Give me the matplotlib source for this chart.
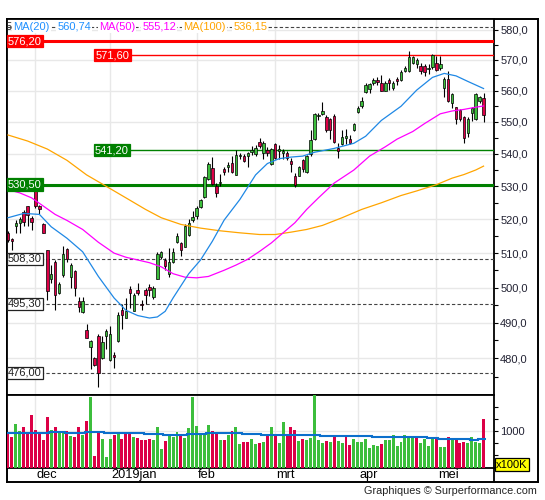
import matplotlib
matplotlib.use("Agg")
import numpy as np
import matplotlib.pyplot as plt
import matplotlib.transforms as mtransforms
from matplotlib.lines import Line2D
from matplotlib.ticker import FixedLocator, FuncFormatter, NullFormatter

plt.rcParams["font.family"] = ["Liberation Sans", "DejaVu Sans"]

# ── koersen (dagelijkse candles, index 0 = eerste dag in beeld) ──────────
opens = [515.9, 514.3, 517.9, 519.0, 522.1, 523.9, 520.3, 529.0, 524.0, 518.6,
         510.8, 502.4, 507.5, 498.3, 503.5, 511.2, 503.1, 504.9, 496.2, 493.0,
         487.8, 483.2, 480.2, 486.3, 480.0, 486.1, 479.6, 480.9, 484.8, 493.5,
         491.4, 499.5, 493.4, 499.3, 495.2, 499.3, 500.2, 497.4, 502.6, 508.8,
         508.0, 503.8, 507.5, 513.4, 512.9, 511.9, 515.5, 519.8, 521.0, 523.6,
         526.8, 532.2, 535.6, 530.0, 531.0, 535.4, 535.8, 537.2, 533.6, 539.4,
         539.4, 539.2, 540.5, 540.0, 543.8, 540.3, 541.1, 537.0, 543.0, 541.0,
         540.3, 540.3, 537.7, 533.3, 533.3, 538.0, 534.3, 539.9, 544.5, 551.9,
         552.6, 551.7, 551.0, 552.0, 541.7, 543.1, 545.0, 544.6, 547.5, 553.1,
         555.0, 559.5, 560.4, 562.5, 563.5, 562.5, 560.0, 563.3, 560.9, 563.7,
         563.4, 566.4, 566.3, 569.1, 568.6, 567.9, 568.1, 567.0, 567.7, 569.1,
         567.5, 561.0, 563.8, 555.9, 554.7, 553.7, 551.5, 546.6, 552.9, 550.8,
         556.7, 557.7]
highs = [516.4, 514.5, 519.8, 520.6, 522.9, 524.1, 521.0, 532.0, 524.3, 518.8,
         511.0, 506.6, 508.0, 501.6, 512.0, 511.6, 507.2, 505.1, 497.3, 497.3,
         489.7, 485.2, 480.5, 486.9, 486.1, 488.3, 489.1, 481.9, 493.1, 495.3,
         497.0, 500.3, 498.3, 501.3, 496.5, 499.8, 501.0, 500.4, 510.4, 510.5,
         508.5, 511.4, 511.4, 515.9, 513.4, 518.6, 520.0, 522.4, 524.0, 526.1,
         533.1, 537.4, 539.0, 531.0, 533.8, 535.9, 537.4, 539.2, 541.3, 540.4,
         540.0, 540.6, 542.6, 542.9, 545.1, 543.9, 542.2, 541.9, 543.4, 542.8,
         541.4, 540.9, 538.8, 534.1, 536.2, 538.4, 539.7, 547.5, 552.9, 553.0,
         556.4, 552.2, 551.3, 552.4, 543.3, 547.4, 547.8, 545.9, 549.6, 555.1,
         558.0, 562.5, 562.5, 564.1, 564.4, 565.2, 563.1, 564.1, 563.1, 564.5,
         566.6, 568.1, 572.9, 571.4, 570.8, 569.0, 568.7, 568.6, 571.9, 571.2,
         571.2, 564.4, 566.5, 559.1, 554.9, 554.2, 551.8, 551.5, 554.7, 559.1,
         558.4, 559.3]
lows = [513.4, 510.9, 515.8, 516.0, 517.9, 517.9, 516.8, 523.5, 521.6, 515.8,
        496.5, 501.2, 493.5, 498.0, 503.0, 507.5, 500.0, 497.5, 493.0, 492.7,
        485.6, 477.0, 477.8, 472.1, 479.8, 482.7, 479.4, 477.3, 484.5, 488.3,
        491.2, 494.1, 493.2, 497.8, 493.5, 495.3, 497.7, 496.8, 502.4, 508.4,
        505.1, 503.1, 507.2, 512.9, 509.1, 511.7, 515.2, 519.3, 520.0, 523.4,
        526.5, 532.0, 530.5, 526.8, 530.0, 533.4, 534.4, 534.0, 533.4, 538.3,
        537.6, 535.9, 539.8, 539.2, 541.8, 538.4, 539.2, 536.7, 538.4, 538.4,
        538.4, 538.2, 534.3, 529.7, 533.1, 534.3, 534.1, 539.2, 544.3, 550.6,
        552.3, 546.9, 544.5, 543.3, 538.6, 542.8, 543.1, 543.1, 547.2, 552.8,
        554.6, 559.2, 559.3, 561.9, 561.9, 559.8, 559.8, 560.3, 560.1, 562.0,
        563.1, 565.9, 565.9, 568.6, 567.3, 565.3, 564.9, 565.3, 567.1, 566.5,
        566.6, 558.0, 556.4, 554.6, 549.5, 550.4, 543.5, 545.4, 550.3, 550.6,
        555.9, 549.9]
closes = [513.9, 513.6, 519.0, 520.0, 519.3, 521.4, 519.3, 524.0, 523.0, 516.0,
          498.9, 503.8, 497.8, 501.0, 509.8, 508.3, 506.4, 500.0, 494.3, 496.2,
          485.8, 484.9, 478.2, 476.0, 484.5, 487.6, 486.7, 480.5, 492.1, 492.2,
          493.4, 498.5, 497.8, 498.5, 494.9, 497.8, 499.4, 500.0, 509.8, 510.2,
          506.2, 507.5, 510.4, 515.1, 510.8, 517.9, 519.0, 520.6, 523.4, 525.9,
          532.8, 536.9, 530.8, 528.0, 531.4, 534.4, 536.6, 534.3, 539.5, 539.6,
          537.9, 540.3, 541.1, 541.8, 542.6, 543.4, 540.3, 541.5, 538.6, 541.4,
          540.9, 538.8, 536.9, 530.5, 535.9, 535.4, 539.2, 544.3, 552.4, 552.3,
          553.4, 547.4, 547.6, 543.8, 541.0, 545.4, 545.6, 543.5, 549.3, 554.5,
          556.7, 561.9, 562.3, 563.3, 562.8, 560.0, 562.5, 562.5, 562.5, 563.2,
          566.1, 567.5, 570.9, 570.9, 569.9, 566.5, 566.2, 567.5, 571.5, 566.8,
          568.8, 563.9, 556.7, 558.8, 550.8, 550.8, 544.8, 551.0, 554.5, 558.9,
          557.9, 552.3]

# volume in eenheden van 100K, plus kleur per balk (g = stijgend, r = dalend)
volumes = [985, 881, 1152, 1006, 1089, 985, 1339, 1027, 958, 819,
           1297, 1027, 1089, 985, 985, 1006, 902, 881, 1089, 923,
           1214, 1713, 486, 965, 840, 466, 840, 923, 985, 840,
           944, 944, 881, 861, 819, 819, 840, 819, 1089, 632,
           798, 923, 881, 985, 923, 861, 1069, 1713, 1110, 965,
           965, 1131, 1006, 985, 819, 819, 923, 1006, 1089, 736,
           778, 778, 840, 736, 757, 778, 923, 1090, 944, 757,
           1194, 923, 1090, 1027, 799, 840, 819, 861, 1741, 819,
           757, 799, 778, 923, 799, 757, 882, 716, 840, 778,
           778, 840, 653, 715, 695, 736, 819, 819, 923, 695,
           778, 923, 882, 861, 861, 757, 840, 695, 861, 861,
           674, 674, 882, 840, 819, 757, 778, 757, 882, 778,
           757, 1256]
vol_dir = ("rrggrrrrrr" "rgrggrgrrg" "rgrrgggrgr" "rrgrrrrggg" "rgggrggggg"
           "ggrrgrgrgg" "rrggrgrgrg" "grrrgrgggg" "grgrggrrgg" "gggggrgggg"
           "ggggrggggr" "ggrgrrrggg" "gr")

# gemiddelde volume (trapvormig)
vma_start = [0, 11, 15, 20, 25, 27, 29, 35, 40, 42, 46, 51, 60, 65, 80, 93, 107, 110, 118, 120]
vma_value = [958, 985, 958, 978, 958, 972, 958, 937, 916, 930, 937, 958, 937, 916, 896, 875, 854, 833, 812, 833]

ma20_x = [0, 4, 8, 11, 15, 19, 23, 27, 30, 33, 36, 38, 40, 42, 46, 49, 52, 55, 59, 63,
          66, 69, 72, 75, 78, 83, 88, 91, 95, 100, 104, 108, 111, 114, 117, 121]
ma20_y = [520.5, 521.8, 521.5, 517.8, 514.4, 510.4, 503.2, 497.0, 493.5, 492.0, 491.3, 491.6,
          493.2, 497.0, 504.0, 508.0, 513.5, 519.8, 526.0, 533.5, 537.0, 538.5, 539.0, 539.3,
          540.5, 541.7, 543.3, 545.5, 550.5, 555.0, 560.2, 564.3, 565.6, 564.8, 563.0, 560.7]
ma50_x = [0, 3, 6, 9, 12, 15, 19, 23, 27, 30, 33, 36, 39, 42, 45, 48, 51, 55, 58, 61,
          64, 67, 70, 73, 76, 79, 83, 88, 92, 96, 99, 103, 106, 110, 113, 116, 119, 121]
ma50_y = [529.0, 528.0, 526.5, 524.0, 521.5, 519.7, 517.0, 513.2, 510.0, 508.8, 508.0, 507.2,
          506.0, 504.0, 503.0, 502.8, 503.2, 505.0, 506.5, 508.2, 510.5, 513.0, 516.0, 519.0,
          523.0, 526.5, 531.0, 535.0, 539.3, 542.2, 544.6, 547.0, 549.5, 552.6, 553.5, 554.0,
          554.7, 555.1]
ma100_x = [0, 5, 10, 15, 20, 23, 26, 30, 35, 39, 44, 49, 54, 59, 64, 68, 72, 76, 80, 85,
           90, 95, 100, 104, 109, 113, 116, 119, 121]
ma100_y = [545.9, 544.0, 541.5, 538.0, 533.5, 531.4, 529.3, 526.5, 523.0, 520.5, 518.5, 517.4,
           516.6, 516.0, 515.5, 515.5, 516.2, 517.0, 518.2, 520.5, 523.0, 525.0, 527.2, 528.6,
           530.5, 532.5, 533.6, 535.0, 536.2]

legend_items = [("MA(20)", "#1e90ff"), ("560,74", "#1e90ff"),
                ("MA(50)", "#ff00ff"), ("555,12", "#ff00ff"),
                ("MA(100)", "#ffa500"), ("536,15", "#ffa500")]

month_idx = [7, 26, 48, 68, 89, 109]
month_lab = ["dec", "2019jan", "feb", "mrt", "apr", "mei"]

price_ticks = [480, 490, 500, 510, 520, 530, 540, 550, 560, 570, 580]
price_minor = [475, 485, 495, 505, 515, 525, 535, 545, 555, 565, 575]

GREEN = "#3cbe3c"
RED = "#dc0046"

W, H = 545, 500


def rect(x0, y0, x1, y1):
    return [x0 / W, 1 - y1 / H, (x1 - x0) / W, (y1 - y0) / H]


fig = plt.figure(figsize=(W / 100, H / 100), dpi=100)

frame = fig.add_axes(rect(7, 19, 538, 482.3), zorder=0)
frame.set_xticks([])
frame.set_yticks([])
for s in frame.spines.values():
    s.set_linewidth(1.4)

ax = fig.add_axes(rect(7, 19, 494, 395), zorder=2)
axv = fig.add_axes(rect(7, 395, 494, 467.7), zorder=2)
fig.add_artist(Line2D([494 / W] * 2, [1 - 467.7 / H, 1 - 482.3 / H], color="black", lw=1.3))

XMIN, XMAX = -0.25, 123.66
idx = np.arange(len(closes))
o = np.array(opens)
c = np.array(closes)
kleur = [GREEN if cc >= oo else RED for oo, cc in zip(o, c)]

# ── koerspaneel ─────────────────────────────────────
ax.set_yscale("log")
ax.set_xlim(XMIN, XMAX)
ax.set_ylim(470.0, 583.6)
ax.vlines(idx, lows, highs, color="black", lw=0.8, zorder=4)
ax.bar(idx, np.abs(c - o), bottom=np.minimum(o, c), width=0.62, color=kleur,
       edgecolor="black", linewidth=0.5, zorder=5)

ax.plot(ma100_x, ma100_y, color="#ffa500", lw=0.9, zorder=6)
ax.plot(ma50_x, ma50_y, color="#ff00ff", lw=0.9, zorder=6)
ax.plot(ma20_x, ma20_y, color="#1f88e5", lw=0.9, zorder=6)

# steun / weerstand
ax.hlines(576.2, XMIN, XMAX, color="#ff0000", lw=2.2, zorder=3)
ax.hlines(571.6, 22.0, XMAX, color="#ff0000", lw=1.0, zorder=3)
ax.hlines(541.2, 22.0, XMAX, color="#008000", lw=1.0, zorder=3)
ax.hlines(530.5, XMIN, XMAX, color="#008000", lw=2.2, zorder=3)
for lvl in (581.0, 508.3, 495.3, 476.0):
    ax.hlines(lvl, XMIN, XMAX, color="#444444", lw=0.8, linestyles=(0, (3, 2)), zorder=3)


def level_label(x, y, txt, fc, tc, ec):
    ax.text(x, y, txt, ha="left", va="center", fontsize=8, color=tc, zorder=8,
            bbox=dict(boxstyle="square,pad=0.12", fc=fc, ec=ec, lw=0.9))


level_label(0, 576.2, "576,20", "#ff0000", "white", "#ff0000")
level_label(22.3, 571.6, "571,60", "#ff0000", "white", "#ff0000")
level_label(22.1, 541.2, "541,20", "#008000", "white", "#008000")
level_label(0, 530.5, "530,50", "#008000", "white", "#008000")
level_label(0, 508.3, "508,30", "white", "#222222", "#222222")
level_label(0, 495.3, "495,30", "white", "#222222", "#222222")
level_label(0, 476.0, "476,00", "white", "#222222", "#222222")

# label van de bovenste stippellijn, grotendeels verborgen achter de legenda
ax.text(1.0, 581.0, "5", ha="right", va="center", fontsize=8, color="#222222",
        zorder=8, clip_on=True)

# legenda bovenaan
leg_x = [1.35, 12.54, 23.08, 34.17, 44.6, 57.33]
for (txt, col), lx in zip(legend_items, leg_x):
    ax.text(lx, 581.0, txt, ha="left", va="center", fontsize=8, color=col, zorder=9,
            bbox=dict(boxstyle="square,pad=0.1", fc="white", ec="none"))

ax.yaxis.set_major_locator(FixedLocator(price_ticks))
ax.yaxis.set_minor_locator(FixedLocator(price_minor))
ax.yaxis.set_major_formatter(FuncFormatter(lambda v, p: f"{v:.1f}".replace(".", ",")))
ax.yaxis.set_minor_formatter(NullFormatter())
ax.tick_params(axis="y", which="both", right=True, left=False, labelright=True,
               labelleft=False, direction="out", length=3, width=0.8, pad=1.5,
               labelsize=8, labelcolor="#222233")
ax.set_xticks(month_idx)
ax.tick_params(axis="x", length=0, labelbottom=False)
ax.grid(True, which="major", color="#e8e8e8", lw=1.0)
ax.set_axisbelow(True)
for s in ax.spines.values():
    s.set_linewidth(1.3)

# ── volumepaneel ─────────────────────────────────────
axv.set_xlim(XMIN, XMAX)
axv.set_ylim(246, 1750)
axv.bar(idx, volumes, width=0.75, color=[GREEN if d == "g" else RED for d in vol_dir], zorder=3)
edges = [s - 0.5 for s in vma_start] + [len(volumes) - 0.5]
axv.stairs(vma_value, edges, baseline=None, color="#0b6fcc", lw=1.5, zorder=4)
axv.yaxis.set_major_locator(FixedLocator([1000]))
axv.yaxis.set_minor_locator(FixedLocator([500, 750, 1250, 1500]))
axv.yaxis.set_major_formatter(FuncFormatter(lambda v, p: f"{v:.0f}"))
axv.yaxis.set_minor_formatter(NullFormatter())
axv.tick_params(axis="y", which="both", right=True, left=False, labelright=True,
                labelleft=False, direction="out", length=3, width=0.8, pad=1.5,
                labelsize=8, labelcolor="#222233")
axv.set_xticks(month_idx)
axv.tick_params(axis="x", length=0, labelbottom=False)
axv.grid(True, which="major", color="#e8e8e8", lw=1.0)
axv.set_axisbelow(True)
for s in axv.spines.values():
    s.set_linewidth(1.3)

trans = mtransforms.blended_transform_factory(axv.transData, axv.transAxes)
for mx, lab in zip(month_idx, month_lab):
    axv.text(mx + 0.35, -0.1, lab, transform=trans, ha="left", va="center",
             fontsize=9.2, color="black")

fig.text(496 / W, 1 - 464.5 / H, "x100K", ha="left", va="center", fontsize=8,
         bbox=dict(boxstyle="square,pad=0.12", fc="#ffff00", ec="black", lw=0.9))
fig.text(537 / W, 1 - 491.5 / H, "Graphiques \u00a9 Surperformance.com", ha="right",
         va="center", fontsize=7.8, color="#222222")

fig.savefig("out.png", dpi=100)
